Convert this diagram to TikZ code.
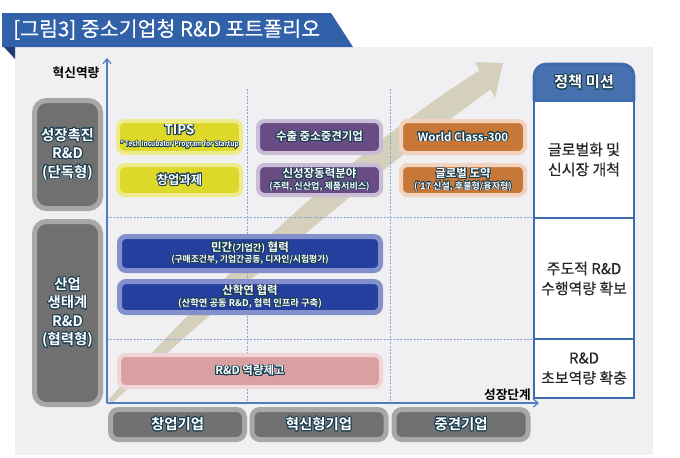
\documentclass[tikz,border=0pt]{standalone}
\usepackage{fontspec}
\newfontfamily\kr[BoldFont={Noto Sans CJK KR Bold}]{Noto Sans CJK KR}
\newfontfamily\krm[FakeBold=0.35]{Noto Sans CJK KR}
\usepackage{contour}
\contourlength{0.65pt}
\contournumber{20}
\usetikzlibrary{arrows.meta}
\definecolor{tband}{HTML}{3161A9}
\definecolor{tfold}{HTML}{1D3C74}
\definecolor{panel}{HTML}{F0F0F2}
\definecolor{yout}{HTML}{EDEB8C}
\definecolor{yin}{HTML}{DDD82A}
\definecolor{pout}{HTML}{C8BCD6}
\definecolor{pin}{HTML}{6A4C85}
\definecolor{oout}{HTML}{F2D3C0}
\definecolor{oin}{HTML}{C77838}
\definecolor{bout}{HTML}{8390CC}
\definecolor{bin}{HTML}{243F9E}
\definecolor{kout}{HTML}{F1D5D6}
\definecolor{kin}{HTML}{D8A0A1}
\definecolor{gout}{HTML}{A7A7A7}
\definecolor{gin}{HTML}{707070}
\definecolor{mcol}{HTML}{3C6BB0}
\definecolor{hdr}{HTML}{4670AE}
\definecolor{axc}{HTML}{4F7EC0}
\definecolor{gridc}{HTML}{8AA6D2}
\definecolor{arc}{HTML}{D4D0BB}
\definecolor{olc}{HTML}{1A3F52}
\definecolor{txt}{HTML}{262626}
\newcommand\ol[1]{\contour{olc}{#1}}
\newcommand\subt[1]{{\contourlength{0.4pt}\fontsize{6.8}{8}\selectfont\ol{#1}}}
\tikzset{
  ring/.style={line width=3pt, rounded corners=5pt, inner sep=0pt, align=center, text=white,
    font=\kr\bfseries\fontsize{8.6}{10.5}\selectfont},
  ybox/.style={ring, draw=yout, fill=yin, minimum width=92.25pt},
  pbox/.style={ring, draw=pout, fill=pin, minimum width=92.25pt},
  obox/.style={ring, draw=oout, fill=oin, minimum width=93pt},
  bbox/.style={ring, draw=bout, fill=bin, line width=3.75pt, minimum width=195.75pt},
  kbox/.style={ring, draw=kout, fill=kin, minimum width=196.5pt, minimum height=24pt},
  gbox/.style={ring, draw=gout, fill=gin, line width=3.75pt, rounded corners=9pt, minimum width=49.5pt,
    font=\kr\bfseries\fontsize{10.8}{13.8}\selectfont},
  sbox/.style={ring, draw=gout, fill=gin, line width=3.75pt, rounded corners=6pt, minimum width=100.5pt,
    minimum height=22.5pt, font=\kr\bfseries\fontsize{10.8}{12}\selectfont},
  cell/.style={draw=mcol, line width=2pt, fill=white, minimum width=75pt, inner sep=0pt, align=center,
    font=\krm\fontsize{11.2}{15}\selectfont, text=txt},
  gridline/.style={draw=gridc, line width=0.6pt, dash pattern=on 1.5pt off 1pt},
  axis/.style={draw=axc, line width=0.9pt, -{Straight Barb[length=3.5pt,width=6pt]}},
  axlabel/.style={font=\kr\bfseries\fontsize{9.5}{11}\selectfont, text=black, inner sep=0pt},
}
\begin{document}
\begin{tikzpicture}[x=0.75pt,y=-0.75pt]
\useasboundingbox (0,0) rectangle (680,457);
\fill[white] (0,0) rectangle (680,457);
% panel and title
\fill[panel] (15,47) rectangle (653,455);
\fill[tband] (2,13) -- (331,13) -- (353,47) -- (2,47) -- cycle;
\fill[tfold] (4,47) -- (15,47) -- (15,59) -- cycle;
\node[anchor=west, text=white, inner sep=0pt, font=\krm\fontsize{15.4}{17}\selectfont] (title) at (13,29.5)
  {[그림3] 중소기업청 R\&D 포트폴리오};
% growth arrow
\fill[arc] (108,400) .. controls (243,252) and (366,142) .. (479.5,70.5) -- (475,62) -- (503,63)
  -- (495,98) -- (490.5,89.5) .. controls (384,166) and (258,269) .. (112,403) -- cycle;
% grid
\draw[gridline] (107,217) -- (533,217);
\draw[gridline] (107,339) -- (533,339);
\draw[gridline] (247,89) -- (247,403);
\draw[gridline] (390,89) -- (390,403);
% axes
\coordinate (O) at (107,403);
\coordinate (ytop) at (107,58);
\coordinate (xend) at (539,403);
\draw[axis] (O) -- (ytop);
\draw[axis] (O) -- (xend);
\node[axlabel] (ylab) at (76,73) {혁신역량};
\node[axlabel, anchor=east] (xlab) at (531,395) {성장단계};
% left group boxes
\node[gbox, minimum height=81pt] (g1) at (67.5,154.5) {\ol{성장촉진}\\\ol{R\&D}\\\ol{(단독형)}};
\node[gbox, minimum height=137.25pt] (g2) at (67.5,313) {\ol{산업}\\\ol{생태계}\\\ol{R\&D}\\\ol{(협력형)}};
% yellow
\node[ybox, minimum height=24pt] (tips) at (179.5,137)
  {\ol{\fontsize{10}{10}\selectfont TIPS}\\[-1.5pt]{\contourlength{0.3pt}\fontsize{5.7}{6}\selectfont\scalebox{0.86}[1]{\ol{* Tech Incubator Program for Startup}}}};
\node[ybox, minimum height=22.5pt] (startup) at (179.5,180) {\ol{\fontsize{9.2}{10}\selectfont 창업과제}};
% purple
\node[pbox, minimum height=24pt] (export) at (319.5,137) {\ol{수출 중소중견기업}};
\node[pbox, minimum height=22.5pt] (newgrowth) at (319.5,180) {\ol{신성장동력분야}\\[-2pt]\subt{(주력, 신산업, 제품서비스)}};
% orange
\node[obox, minimum height=24pt] (wc) at (463,137) {\ol{World Class-300}};
\node[obox, minimum height=22.5pt] (global) at (463,180) {\ol{글로벌 도약}\\[-2pt]\subt{(’17 신설, 후불형/융자형)}};
% blue
\node[bbox, minimum height=25.5pt] (private) at (250,253.5)
  {\ol{민간{\fontsize{7}{8}\selectfont(기업간)} 협력}\\[-2pt]{\contourlength{0.4pt}\fontsize{6.6}{8}\selectfont\ol{(구매조건부, 기업간공동, 디자인/시험평가)}}};
\node[bbox, minimum height=23.25pt] (academia) at (250,297)
  {\ol{산학연 협력}\\[-2pt]{\contourlength{0.4pt}\fontsize{7}{8}\selectfont\ol{(산학연 공동 R\&D, 협력 인프라 구축)}}};
% pink
\node[kbox] (rnd) at (250,371) {\ol{R\&D 역량제고}};
% bottom stages
\node[sbox] (s1) at (177.5,424.5) {\ol{창업기업}};
\node[sbox] (s2) at (319,424.5) {\ol{혁신형기업}};
\node[sbox] (s3) at (461,424.5) {\ol{중견기업}};
% mission column
\filldraw[fill=hdr, draw=mcol, line width=2pt, rounded corners=9pt] (534,101) -- (534,64) -- (634,64) -- (634,101);
\node[text=white, font=\kr\bfseries\fontsize{11.5}{13}\selectfont, inner sep=0pt] (mh) at (584,82.5) {\ol{정책 미션}};
\node[cell, minimum height=87.75pt] (m1) at (584,159.5) {글로벌화 및\\신시장 개척};
\node[cell, minimum height=90.75pt] (m2) at (584,278.5) {주도적 R\&D\\수행역량 확보};
\node[cell, minimum height=44.25pt] (m3) at (584,368.5) {R\&D\\초보역량 확충};
\end{tikzpicture}
\end{document}
